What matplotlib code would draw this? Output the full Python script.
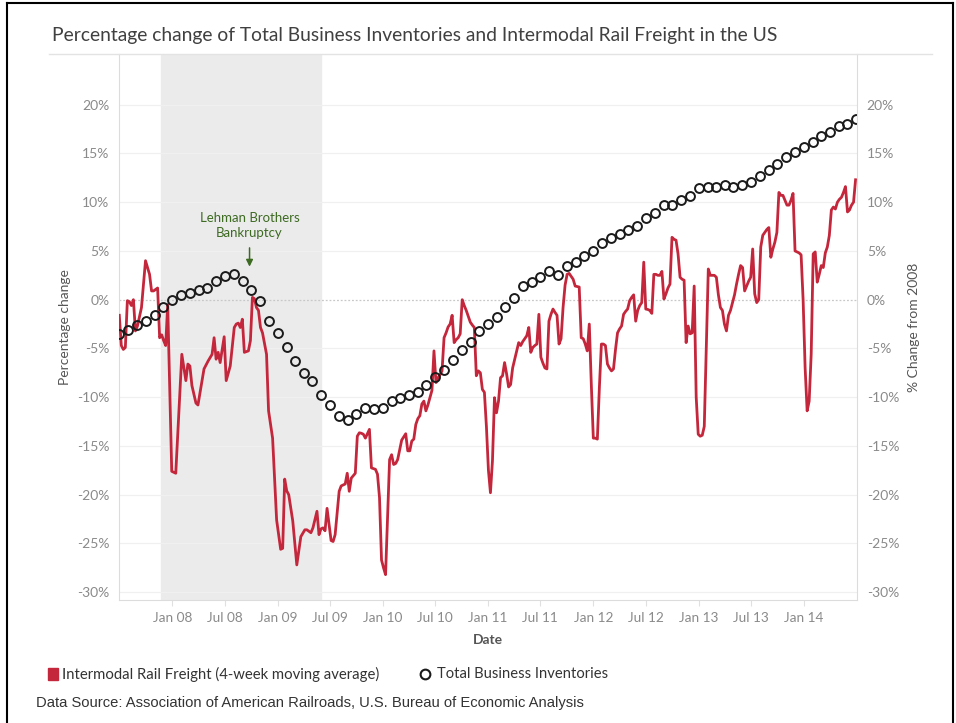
import numpy as np
import pandas as pd
import matplotlib
matplotlib.use('Agg')
import matplotlib.pyplot as plt
import matplotlib.dates as mdates
from matplotlib.lines import Line2D
from matplotlib.patches import Rectangle

# Total Business Inventories, % change from 2008, monthly from Jul 2007
inv_start = '2007-07-01'
inv_pct = [-3.47, -3.12, -2.60, -2.16, -1.54, -0.72,
           -0.03, 0.48, 0.65, 1.00, 1.23, 1.88, 2.44, 2.64, 1.95, 1.03, -0.10, -2.16,
           -3.43, -4.84, -6.28, -7.48, -8.33, -9.74, -10.77, -11.97, -12.31, -11.76, -11.14, -11.18,
           -11.11, -10.42, -10.08, -9.74, -9.43, -8.78, -7.95, -7.23, -6.20, -5.11, -4.35, -3.22,
           -2.47, -1.82, -0.75, 0.21, 1.37, 1.85, 2.29, 2.91, 2.50, 3.50, 3.91, 4.53,
           4.97, 5.83, 6.31, 6.76, 7.13, 7.54, 8.40, 8.88, 9.67, 9.70, 10.22, 10.60,
           11.45, 11.55, 11.55, 11.76, 11.55, 11.73, 12.11, 12.73, 13.27, 13.92, 14.64, 15.20,
           15.67, 16.18, 16.77, 17.21, 17.80, 18.07, 18.52]

# Intermodal rail freight, 4-week moving average, % change (week number from 2007-07-01)
rail_start = '2007-07-01'
rail_week = [0, 1, 2, 3, 4, 5, 6, 7, 8, 9, 11, 13, 15, 16, 17, 19, 20, 21, 22, 23, 24, 26, 27, 28,
             31, 33, 34, 35, 36, 38, 39, 42, 44, 46, 47, 48, 49, 50, 52, 53, 55, 57, 58, 59, 60,
             61, 62, 64, 65, 66, 67, 68, 69, 70, 71, 73, 74, 75, 76, 78, 80, 81, 82, 83, 84, 86,
             88, 90, 92, 93, 95, 96, 98, 99, 100, 101, 102, 103, 105, 106, 107, 109, 110, 111,
             112, 113, 114, 115, 117, 118, 119, 120, 121, 122, 124, 125, 127, 128, 129, 130,
             131, 132, 134, 135, 136, 137, 138, 140, 142, 143, 144, 145, 146, 147, 148, 149,
             150, 151, 152, 153, 154, 155, 156, 157, 158, 159, 160, 161, 162, 163, 164, 165,
             166, 167, 168, 169, 170, 171, 172, 174, 175, 176, 177, 178, 179, 180, 181, 182,
             183, 184, 185, 186, 187, 188, 189, 190, 191, 192, 193, 194, 195, 197, 198, 199,
             200, 201, 202, 203, 204, 205, 206, 207, 208, 209, 210, 211, 212, 213, 214, 215,
             216, 217, 218, 219, 220, 221, 222, 223, 224, 225, 226, 227, 228, 229, 230, 231,
             232, 233, 234, 235, 236, 237, 238, 239, 240, 241, 242, 243, 244, 245, 246, 247,
             248, 249, 250, 251, 252, 253, 254, 255, 256, 257, 258, 259, 260, 261, 262, 263,
             264, 265, 266, 267, 268, 269, 270, 271, 272, 273, 274, 275, 276, 277, 278, 279,
             280, 281, 282, 283, 284, 285, 286, 287, 288, 289, 290, 292, 293, 294, 295, 296,
             297, 298, 299, 300, 301, 302, 303, 304, 305, 306, 307, 308, 309, 310, 311, 312,
             313, 314, 315, 316, 317, 318, 319, 320, 321, 322, 323, 324, 325, 326, 327, 328,
             329, 330, 331, 332, 333, 334, 335, 336, 337, 338, 339, 340, 341, 342, 343, 344,
             345, 346, 347, 348, 349, 350, 351, 352, 353, 354, 355, 356, 357, 358, 359, 360,
             361, 362, 363, 364, 365]
rail_pct = [-1.6, -4.7, -5.1, -4.9, -0.1, -0.2, -0.6, 0.0, -3.2, -2.7, -0.8, 4.0, 2.6, 0.9, 0.9, 1.2,
            -3.9, -3.6, -4.2, -4.7, -0.5, -17.6, -17.7, -17.8,
            -5.6, -8.3, -6.6, -6.8, -8.8, -10.6, -10.8, -7.1, -6.3, -5.6, -3.9, -6.1, -5.4, -6.45,
            -3.8, -8.3, -6.8, -2.85, -2.5, -2.4, -2.85,
            -2.0, -5.4, -5.25, -4.2, 0.24, 0.1, -0.8, -1.1, -2.85, -3.4, -5.6, -11.4, -12.8, -14.2,
            -22.6, -25.6, -25.5, -18.4, -19.6, -20.0, -22.7,
            -27.2, -24.3, -23.6, -23.6, -23.9, -23.4, -21.7, -24.1, -23.5, -23.4, -23.7, -21.4,
            -24.7, -24.8, -24.1, -19.65, -19.1, -19.0,
            -18.9, -17.8, -19.65, -18.3, -17.8, -14.0, -13.65, -13.7, -13.8, -14.2, -13.3, -17.25,
            -17.4, -17.9, -20.3, -26.7,
            -27.5, -28.2, -16.4, -15.9, -16.9, -16.8, -16.4, -14.4, -13.75, -15.5, -15.5, -14.5,
            -14.3, -12.8, -12.2, -11.9,
            -10.7, -10.4, -11.4, -10.8, -10.05, -9.3, -5.25, -8.5, -8.0, -7.7, -7.3, -3.9, -3.4,
            -2.8, -2.5, -1.6,
            -4.4, -4.1, -3.9, -3.5, 0.0, -0.6, -1.1, -2.3, -2.6, -2.85, -7.8, -7.3, -7.5, -9.2,
            -9.5, -13.0,
            -17.5, -19.8, -16.5, -10.05, -11.6, -10.4, -8.0, -7.8, -6.45, -7.6, -8.95, -8.7, -7.0,
            -5.25, -4.4, -4.7,
            -4.3, -4.0, -3.7, -2.85, -5.4, -4.9, -4.7, -4.55, -1.5, -5.9, -6.5, -7.0, -7.1, -2.2,
            -1.5, -0.96,
            -1.3, -1.6, -4.55, -4.0, -0.8, 1.5, 2.6, 2.7, 2.4, 2.1, 1.4, 1.35, 1.3, -3.9, -4.0, -4.55,
            -5.25, -2.5, -8.7, -14.2, -14.2, -14.3, -9.0, -4.55, -4.55, -4.7, -6.6, -7.0, -7.3,
            -7.1, -5.1, -3.4,
            -3.0, -2.7, -1.5, -1.2, -0.96, -0.1, 0.24, 0.5, -2.2, -1.1, -0.6, -0.3, 3.85, -0.96,
            -1.0, -1.1,
            -1.4, 2.6, 2.6, 2.5, 2.5, 2.9, 0.07, 0.6, 1.2, 1.6, 6.4, 6.2, 6.1, 4.7, 2.3, 2.1,
            2.0, -4.4, -2.7, -3.5, -3.4, 1.4, -10.0, -13.8, -14.0, -13.9, -13.0, 3.15, 2.5, 2.5,
            2.5, 2.3,
            0.5, -0.8, -1.1, -2.5, -3.2, -1.6, -1.1, -0.3, 0.5, 1.6, 2.6, 3.5, 3.3, 0.9, 1.4, 1.9,
            2.3, 5.2, 0.6, -0.3, 0.0, 5.4, 6.6, 6.9, 7.2, 7.4, 4.35, 5.2, 5.9, 6.9, 11.0, 10.7,
            10.7, 10.2, 9.7, 9.7, 10.2, 10.9, 5.0, 4.9, 4.8, 4.6, 0.0, -7.0, -11.4, -10.4, -5.6, 4.7,
            4.9, 1.8, 2.6, 3.5, 3.3, 4.8, 5.4, 6.6, 9.2, 9.5, 9.3, 10.0, 10.3, 10.5, 11.0, 11.6,
            9.0, 9.2, 9.7, 10.0, 12.3]

recession = ('2007-11-24', '2009-06-01')
lehman = '2008-09-25'
tick_dates = ['2008-01-01', '2008-07-01', '2009-01-01', '2009-07-01', '2010-01-01', '2010-07-01',
              '2011-01-01', '2011-07-01', '2012-01-01', '2012-07-01', '2013-01-01', '2013-07-01',
              '2014-01-01']
tick_labels = ['Jan 08', 'Jul 08', 'Jan 09', 'Jul 09', 'Jan 10', 'Jul 10', 'Jan 11', 'Jul 11',
               'Jan 12', 'Jul 12', 'Jan 13', 'Jul 13', 'Jan 14']
y_ticks = [20, 15, 10, 5, 0, -5, -10, -15, -20, -25, -30]

inv_dates = pd.date_range(inv_start, periods=len(inv_pct), freq='MS')
rail_dates = pd.Timestamp(rail_start) + pd.to_timedelta(np.array(rail_week) * 7, unit='D')

plt.rcParams['font.family'] = ['Lato', 'DejaVu Sans']
RED = '#c4263b'
GREY = '#8a8a8a'

fig = plt.figure(figsize=(9.56, 7.23), dpi=100)
ax = fig.add_axes([119 / 956, 1 - 600 / 723, (857 - 119) / 956, (600 - 54) / 723])
ax.set_xlim(pd.Timestamp('2007-06-30'), pd.Timestamp('2014-07-04'))
ax.set_ylim(-30.8, 25.2)

ax.axvspan(pd.Timestamp(recession[0]), pd.Timestamp(recession[1]), color='#ebebeb', zorder=0)
for v in y_ticks:
    if v == 0:
        ax.axhline(0, color='#c8c8c8', lw=0.9, ls=(0, (1.5, 1.5)), zorder=1)
    else:
        ax.axhline(v, color='#f0f0f0', lw=0.9, zorder=1)

ax.plot(rail_dates, rail_pct, color=RED, lw=2.0, zorder=3, solid_joinstyle='round')
ax.plot(inv_dates, inv_pct, ls='none', marker='o', ms=6.4, mfc='none', mec='#1a1a1a',
        mew=1.4, zorder=4, clip_on=True)

# annotation
ax.annotate('', xy=(pd.Timestamp(lehman), 3.1), xytext=(pd.Timestamp(lehman), 5.6),
            arrowprops=dict(arrowstyle='-|>', color='#3d6b22', lw=1.1, mutation_scale=10))
ax.text(pd.Timestamp(lehman), 7.6, 'Lehman Brothers\nBankruptcy', ha='center', va='center',
        color='#3d6b22', fontsize=9.5, linespacing=1.35)

ax.set_xticks(pd.to_datetime(tick_dates))
ax.set_xticklabels(tick_labels)
ax.set_yticks(y_ticks)
ax.set_yticklabels([f'{v}%' for v in y_ticks])
ax.tick_params(axis='x', length=4, color='#e0e0e0', labelcolor=GREY, labelsize=9.8, pad=5)
ax.tick_params(axis='y', length=0, labelcolor=GREY, labelsize=10, pad=7)
for s in ['top', 'right']:
    ax.spines[s].set_visible(False)
ax.spines['left'].set_color('#dcdcdc')
ax.spines['bottom'].set_color('#dcdcdc')

ax.set_xlabel('Date', color='#555555', fontsize=10, fontweight='bold', labelpad=7)
ax.set_ylabel('Percentage change', color='#555555', fontsize=10, labelpad=4)

ax2 = ax.twinx()
ax2.set_ylim(ax.get_ylim())
ax2.set_yticks(y_ticks)
ax2.set_yticklabels([f'{v}%' for v in y_ticks])
ax2.tick_params(axis='y', length=0, labelcolor=GREY, labelsize=10, pad=7)
for s in ['top', 'left', 'bottom']:
    ax2.spines[s].set_visible(False)
ax2.spines['right'].set_color('#dcdcdc')
ax2.set_ylabel('% Change from 2008', color='#555555', fontsize=10, labelpad=6)

# title and separator
fig.text(52 / 956, 1 - 35 / 723, 'Percentage change of Total Business Inventories and Intermodal Rail Freight in the US',
         ha='left', va='center', fontsize=13.85, color='#404040')
fig.add_artist(Line2D([49 / 956, 932 / 956], [1 - 54 / 723] * 2, color='#e3e3e3', lw=1))

# legend
fig.add_artist(Rectangle((48 / 956, 1 - 680 / 723), 10 / 956, 12 / 723, color=RED))
fig.text(62 / 956, 1 - 674 / 723, 'Intermodal Rail Freight (4-week moving average)', ha='left',
         va='center', fontsize=10.7, color='#333333')
fig.add_artist(Line2D([425 / 956], [1 - 674 / 723], marker='o', ms=7, mfc='none', mec='#1a1a1a',
                      mew=1.5))
fig.text(437 / 956, 1 - 674 / 723, 'Total Business Inventories', ha='left', va='center',
         fontsize=10.6, color='#333333')
fig.text(36 / 956, 1 - 703 / 723, 'Data Source: Association of American Railroads, U.S. Bureau of Economic Analysis',
         ha='left', va='center', fontsize=10.6, color='#333333', family='Liberation Sans')

# frame around the picture
for xs, ys in [([7 / 956, 7 / 956], [0, 1 - 3 / 723]),
               ([7 / 956, 953 / 956], [1 - 3 / 723] * 2),
               ([953 / 956, 953 / 956], [0, 1 - 3 / 723])]:
    fig.add_artist(Line2D(xs, ys, color='black', lw=1.5))

fig.savefig('out.png', dpi=100)
